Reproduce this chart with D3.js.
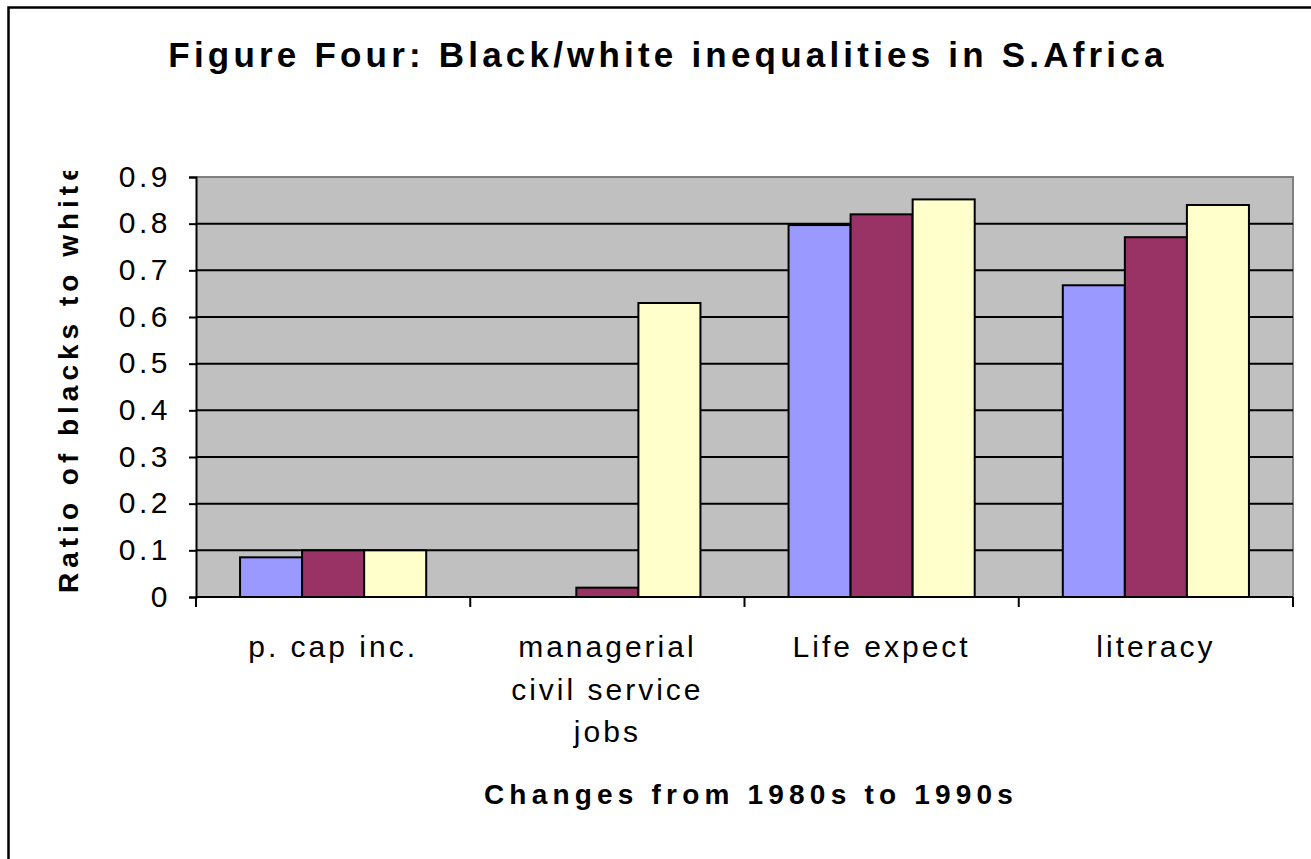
<!DOCTYPE html>
<html>
<head>
<meta charset="utf-8">
<script src="https://cdn.jsdelivr.net/npm/d3@7"></script>
<style>
  body { margin: 0; background: #fff; }
  text { font-family: "Liberation Sans", Arial, sans-serif; fill: #000; }
</style>
</head>
<body>
<div id="chart"></div>
<script>
const categories = ["p. cap inc.", "managerial civil service jobs", "Life expect", "literacy"];
const categoryLines = [["p. cap inc."], ["managerial", "civil service", "jobs"], ["Life expect"], ["literacy"]];
const seriesNames = ["s1", "s2", "s3"];
const seriesColors = ["#9999FF", "#993366", "#FFFFCC"];
const values = [
  [0.085, 0.1, 0.1],
  [0, 0.02, 0.63],
  [0.797, 0.82, 0.852],
  [0.668, 0.771, 0.84]
];
const yTicks = [0, 0.1, 0.2, 0.3, 0.4, 0.5, 0.6, 0.7, 0.8, 0.9];

const width = 1311, height = 859;
const plot = { left: 196, right: 1293, top: 177, bottom: 597 };

const svg = d3.select("#chart").append("svg")
  .attr("width", width)
  .attr("height", height);

// outer chart frame (only top/left visible in the source)
svg.append("rect")
  .attr("x", 8.5).attr("y", 7.5)
  .attr("width", width + 20).attr("height", height + 20)
  .attr("fill", "none").attr("stroke", "#000").attr("stroke-width", 2.5);

const x0 = d3.scaleBand().domain(categories).range([plot.left, plot.right]).padding(0);
const x1 = d3.scaleBand().domain(seriesNames).range([0, x0.bandwidth()]).paddingInner(0).paddingOuter(0.71);
const y = d3.scaleLinear().domain([0, 0.9]).range([plot.bottom, plot.top]);

// plot background
svg.append("rect")
  .attr("x", plot.left).attr("y", plot.top)
  .attr("width", plot.right - plot.left).attr("height", plot.bottom - plot.top)
  .attr("fill", "#C0C0C0");

// grey top/right plot border
svg.append("path")
  .attr("d", `M${plot.left},${plot.top}H${plot.right}V${plot.bottom}`)
  .attr("fill", "none").attr("stroke", "#808080").attr("stroke-width", 2);

// gridlines
svg.append("g").selectAll("line")
  .data(yTicks.filter(d => d > 0 && d < 0.9))
  .enter().append("line")
  .attr("x1", plot.left).attr("x2", plot.right)
  .attr("y1", d => y(d)).attr("y2", d => y(d))
  .attr("stroke", "#000").attr("stroke-width", 2);

// bars
const groups = svg.append("g").selectAll("g")
  .data(values)
  .enter().append("g")
  .attr("transform", (d, i) => `translate(${x0(categories[i])},0)`);

groups.selectAll("rect")
  .data(d => d.map((v, j) => ({ v, j })).filter(e => e.v > 0))
  .enter().append("rect")
  .attr("x", d => x1(seriesNames[d.j]))
  .attr("y", d => y(d.v))
  .attr("width", x1.bandwidth())
  .attr("height", d => y(0) - y(d.v))
  .attr("fill", d => seriesColors[d.j])
  .attr("stroke", "#000").attr("stroke-width", 2);

// y axis
const yAxis = svg.append("g")
  .attr("transform", `translate(${plot.left},0)`)
  .call(d3.axisLeft(y).tickValues(yTicks).tickSize(7).tickFormat(d => d === 0 ? "0" : d3.format(".1f")(d)));
yAxis.select(".domain").attr("stroke", "#000").attr("stroke-width", 2);
yAxis.selectAll(".tick line").attr("stroke", "#000").attr("stroke-width", 2);
yAxis.selectAll(".tick text")
  .attr("x", -25)
  .attr("dy", "0.3em")
  .style("font-size", "30px")
  .style("letter-spacing", "3.5px")
  .style("font-family", "'Liberation Sans', Arial, sans-serif");

// x axis line and ticks between categories
svg.append("line")
  .attr("x1", plot.left).attr("x2", plot.right)
  .attr("y1", plot.bottom).attr("y2", plot.bottom)
  .attr("stroke", "#000").attr("stroke-width", 2);
const xTickPos = categories.map(c => x0(c)).concat([x0(categories[categories.length - 1]) + x0.bandwidth()]);
svg.append("g").selectAll("line")
  .data(xTickPos)
  .enter().append("line")
  .attr("x1", d => d).attr("x2", d => d)
  .attr("y1", plot.bottom).attr("y2", plot.bottom + 10)
  .attr("stroke", "#000").attr("stroke-width", 2);

// category labels
const catLabels = svg.append("g").selectAll("text")
  .data(categoryLines)
  .enter().append("text")
  .attr("text-anchor", "middle")
  .style("font-size", "30px")
  .style("letter-spacing", "3px");
catLabels.each(function (lines, i) {
  const cx = x0(categories[i]) + x0.bandwidth() / 2;
  d3.select(this).selectAll("tspan")
    .data(lines)
    .enter().append("tspan")
    .attr("x", cx)
    .attr("y", (d, k) => 657 + k * 42.5)
    .text(d => d);
});

// title
svg.append("text")
  .attr("x", 668).attr("y", 67)
  .attr("text-anchor", "middle")
  .style("font-size", "35px")
  .style("font-weight", "bold")
  .style("letter-spacing", "4.2px")
  .text("Figure Four: Black/white inequalities in S.Africa");

// x axis title
svg.append("text")
  .attr("x", 751).attr("y", 804)
  .attr("text-anchor", "middle")
  .style("font-size", "28px")
  .style("font-weight", "bold")
  .style("letter-spacing", "5.2px")
  .text("Changes from 1980s to 1990s");

// y axis title (clipped at the top like the source)
svg.append("clipPath").attr("id", "yclip")
  .append("rect").attr("x", 0).attr("y", 171).attr("width", 120).attr("height", 500);
svg.append("g").attr("clip-path", "url(#yclip)")
  .append("text")
  .attr("transform", "translate(78,593) rotate(-90)")
  .attr("text-anchor", "start")
  .style("font-size", "28px")
  .style("font-weight", "bold")
  .style("letter-spacing", "5px")
  .text("Ratio of blacks to whites");
</script>
</body>
</html>
